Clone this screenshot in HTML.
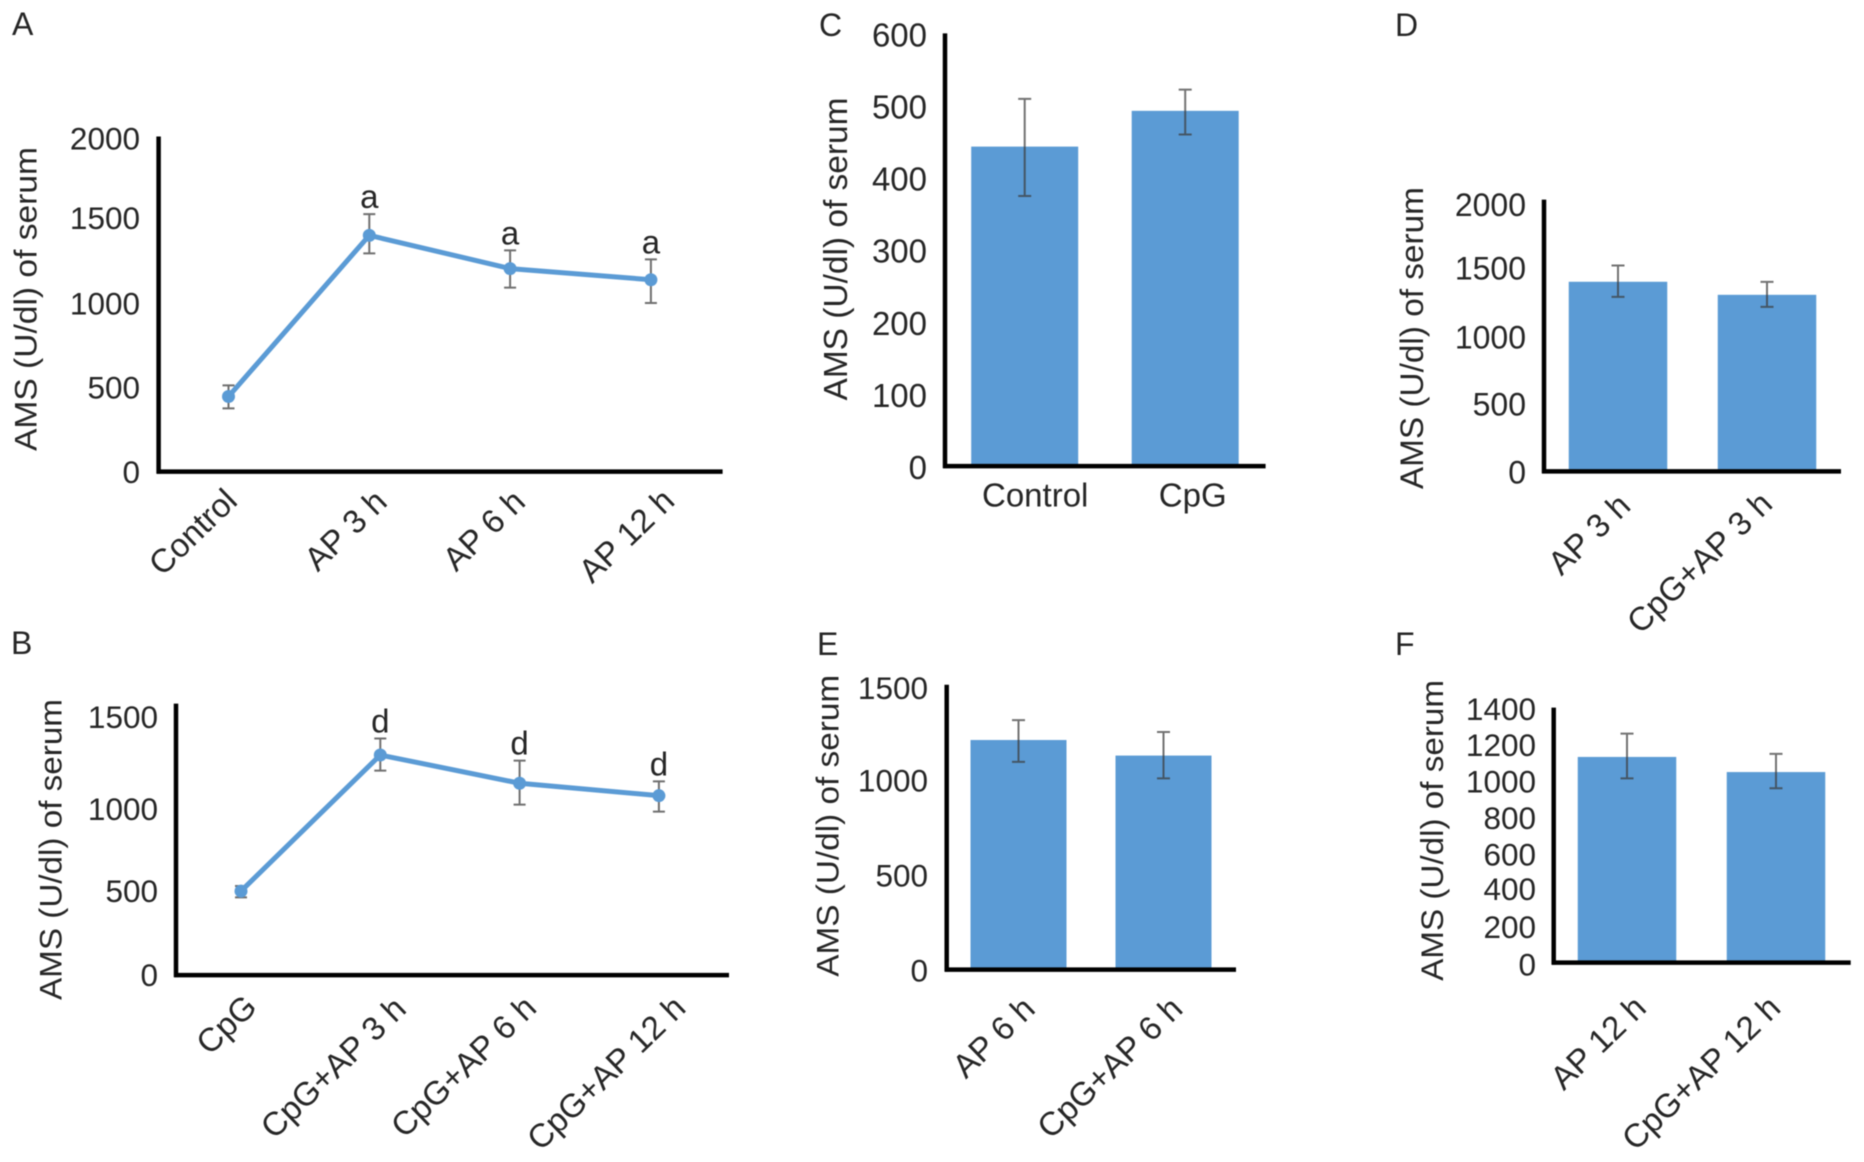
<!DOCTYPE html>
<html lang="en">
<head>
<meta charset="utf-8">
<title>AMS of serum, panels A to F</title>
<style>
  html, body { margin: 0; padding: 0; background: #fff; }
  body { width: 1864px; height: 1162px; overflow: hidden; }
  svg { display: block; filter: blur(0.45px); }
  text { font-family: "Liberation Sans", sans-serif; fill: #262626; }
</style>
</head>
<body>
<svg id="figure" xmlns="http://www.w3.org/2000/svg" width="1864" height="1162" viewBox="0 0 1864 1162"></svg>
<script>
/* ---------- data ---------- */
const panelACategories = ['Control', 'AP 3 h', 'AP 6 h', 'AP 12 h'];
const panelAValues = [445, 1400, 1203, 1137];
const panelAUpper = [511, 1526, 1311, 1258];
const panelALower = [375, 1293, 1090, 999];
const panelAMarks = ['', 'a', 'a', 'a'];
const panelATicks = [0, 500, 1000, 1500, 2000];

const panelBCategories = ['CpG', 'CpG+AP 3 h', 'CpG+AP 6 h', 'CpG+AP 12 h'];
const panelBValues = [500, 1310, 1142, 1068];
const panelBUpper = [530, 1408, 1277, 1153];
const panelBLower = [463, 1217, 1015, 973];
const panelBMarks = ['', 'd', 'd', 'd'];
const panelBTicks = [0, 500, 1000, 1500];

const panelCCategories = ['Control', 'CpG'];
const panelCValues = [443, 492.6];
const panelCUpper = [509.2, 522];
const panelCLower = [374.6, 459.8];
const panelCTicks = [0, 100, 200, 300, 400, 500, 600];

const panelDCategories = ['AP 3 h', 'CpG+AP 3 h'];
const panelDValues = [1395, 1299];
const panelDUpper = [1515, 1394];
const panelDLower = [1284, 1210];
const panelDTicks = [0, 500, 1000, 1500, 2000];

const panelECategories = ['AP 6 h', 'CpG+AP 6 h'];
const panelEValues = [1209, 1127];
const panelEUpper = [1314, 1251];
const panelELower = [1094, 1007];
const panelETicks = [0, 500, 1000, 1500];

const panelFCategories = ['AP 12 h', 'CpG+AP 12 h'];
const panelFValues = [1130, 1047];
const panelFUpper = [1258, 1147];
const panelFLower = [1012, 958];
const panelFTicks = [0, 200, 400, 600, 800, 1000, 1200, 1400];

const yAxisTitle = 'AMS (U/dl) of serum';

/* ---------- layout: pixels per panel, kept apart from the data ---------- */
const layoutA = { id: 'a', letter: 'A', letterX: 12, letterY: 35, axisX: 158.6, axisTop: 136.5, baseY: 471.6, axisEnd: 722.6, unitPx: 0.16875, x0: 228.5, step: 140.8, tickRight: 140, titleX: 36.6, titleMid: 299, titleLen: 304, font: 31.5, xFont: 33.1, labelDx: [10.5, 19.5, 17, 25.5], labelY: [503, 504, 504, 503], tickDy: 11.5, tickNudge: { 2000: 4, 1500: -1 } };
const layoutB = { id: 'b', letter: 'B', letterX: 11, letterY: 654, axisX: 176, axisTop: 703.6, baseY: 975.1, axisEnd: 729, unitPx: 0.168, x0: 241, step: 139.3, tickRight: 158, titleX: 61.5, titleMid: 849.5, titleLen: 301, font: 31.5, xFont: 33.1, labelDx: [17.6, 27.7, 18.6, 28.6], labelY: [1009, 1011, 1010, 1010], tickDy: 11, tickNudge: { 1500: -6, 1000: 2 } };
const layoutC = { id: 'c', letter: 'C', letterX: 819, letterY: 36, axisX: 945, axisTop: 33.4, baseY: 466.1, axisEnd: 1265.6, unitPx: 0.7212, x0: 1024.7, step: 160.5, barW: 107, tickRight: 927, titleX: 847, titleMid: 249, titleLen: 303, font: 33, xFont: 33, labelDx: [10.5, 7.5], labelY: [506.5, 506.5], tickDy: 13, tickNudge: {}, horizontal: true };
const layoutD = { id: 'd', letter: 'D', letterX: 1395, letterY: 36, axisX: 1544, axisTop: 199.6, baseY: 471.35, axisEnd: 1841, unitPx: 0.1359, x0: 1618, step: 149, barW: 98.5, tickRight: 1526, titleX: 1423, titleMid: 338.1, titleLen: 302, font: 32, xFont: 33.1, labelDx: [14.4, 7.2], labelY: [508, 506], tickDy: 12, tickNudge: { 2000: 4.5, 1000: 1 } };
const layoutE = { id: 'e', letter: 'E', letterX: 817, letterY: 655, axisX: 946.7, axisTop: 684.8, baseY: 969.6, axisEnd: 1236, unitPx: 0.1899, x0: 1018.5, step: 145, barW: 96, tickRight: 928, titleX: 838.3, titleMid: 825.8, titleLen: 302, font: 31.5, xFont: 33.1, labelDx: [18.4, 21], labelY: [1011, 1011], tickDy: 12, tickNudge: { 1500: 2 } };
const layoutF = { id: 'f', letter: 'F', letterX: 1395, letterY: 655, axisX: 1553.7, axisTop: 707.6, baseY: 962.6, axisEnd: 1850.7, unitPx: 0.182, x0: 1627, step: 149, barW: 98.5, tickRight: 1536, titleX: 1443, titleMid: 830.4, titleLen: 301, font: 31.5, xFont: 33.1, labelDx: [21, 6.4], labelY: [1010, 1010], tickDy: 12, tickNudge: { 0: 1, 400: -2 } };

const SVG_NS = 'http://www.w3.org/2000/svg';
const figure = document.getElementById('figure');
const BLUE = '#5b9bd5';

function make(tag, attrs, parent) {
  const node = document.createElementNS(SVG_NS, tag);
  for (const key in attrs) node.setAttribute(key, attrs[key]);
  parent.appendChild(node);
  return node;
}
function scaleY(layout, value) { return layout.baseY - value * layout.unitPx; }
function scaleX(layout, index) { return layout.x0 + index * layout.step; }

function drawFrame(layout, categories, ticks) {
  const g = make('g', {}, figure);
  
  

  const letter = make('text', { x: layout.letterX, y: layout.letterY, 'font-size': 32 }, g);
  letter.textContent = layout.letter;
  
  

  const title = make('text', {
    x: 0, y: 0, 'font-size': layout.font, 'text-anchor': 'middle',
    textLength: layout.titleLen, lengthAdjust: 'spacingAndGlyphs',
    transform: 'translate(' + layout.titleX + ' ' + layout.titleMid + ') rotate(-90)'
  }, g);
  title.textContent = yAxisTitle;
  
  

  ticks.forEach(function (tick) {
    const label = make('text', {
      x: layout.tickRight, y: scaleY(layout, tick) + layout.tickDy + (layout.tickNudge[tick] || 0),
      'font-size': layout.font, 'text-anchor': 'end'
    }, g);
    label.textContent = String(tick);
    
    
  });

  categories.forEach(function (category, i) {
    const px = scaleX(layout, i) + layout.labelDx[i];
    const py = layout.labelY[i];
    const attrs = layout.horizontal
      ? { x: px, y: py, 'font-size': layout.xFont, 'text-anchor': 'middle' }
      : { x: 0, y: 0, 'font-size': layout.xFont, 'text-anchor': 'end', transform: 'translate(' + px + ' ' + py + ') rotate(-44)' };
    const label = make('text', attrs, g);
    label.textContent = category;
    
    
  });
  return g;
}

function drawAxes(layout, g) {
  const yAxis = make('line', { x1: layout.axisX, x2: layout.axisX, y1: layout.axisTop, y2: layout.baseY + 2, stroke: '#000', 'stroke-width': 4.5 }, g);
  
  
  const xAxis = make('line', { x1: layout.axisX - 2, x2: layout.axisEnd, y1: layout.baseY, y2: layout.baseY, stroke: '#000', 'stroke-width': 4.5 }, g);
  
  
}

function drawError(layout, g, i, upper, lower, stroke, capHalf) {
  const x = scaleX(layout, i);
  const top = scaleY(layout, upper[i]);
  const bottom = scaleY(layout, lower[i]);
  const eg = make('path', {
    d: 'M' + x + ' ' + top + 'V' + bottom + 'M' + (x - capHalf) + ' ' + top + 'H' + (x + capHalf) + 'M' + (x - capHalf) + ' ' + bottom + 'H' + (x + capHalf),
    fill: 'none', stroke: stroke, 'stroke-width': 2
  }, g);
  
  
}

function drawLinePanel(layout, categories, values, upper, lower, marks, ticks) {
  const g = drawFrame(layout, categories, ticks);
  drawAxes(layout, g);
  values.forEach(function (v, i) { drawError(layout, g, i, upper, lower, '#6f6f6f', 6); });
  const points = values.map(function (v, i) { return scaleX(layout, i) + ',' + scaleY(layout, v); }).join(' ');
  const line = make('polyline', { points: points, fill: 'none', stroke: BLUE, 'stroke-width': 5, 'stroke-linejoin': 'round' }, g);
  
  
  values.forEach(function (v, i) {
    const dot = make('circle', { cx: scaleX(layout, i), cy: scaleY(layout, v), r: 6.5, fill: BLUE }, g);
    
    
    if (marks[i]) {
      const mark = make('text', { x: scaleX(layout, i), y: scaleY(layout, upper[i]) - 6, 'font-size': 33, 'text-anchor': 'middle' }, g);
      mark.textContent = marks[i];
      
      
    }
  });
}

function drawBarPanel(layout, categories, values, upper, lower, ticks) {
  const g = drawFrame(layout, categories, ticks);
  values.forEach(function (v, i) {
    const top = scaleY(layout, v);
    const bar = make('rect', { x: scaleX(layout, i) - layout.barW / 2, y: top, width: layout.barW, height: layout.baseY - top, fill: BLUE }, g);
    
    
  });
  drawAxes(layout, g);
  values.forEach(function (v, i) { drawError(layout, g, i, upper, lower, 'rgba(60,60,60,0.72)', 6.5); });
}

drawLinePanel(layoutA, panelACategories, panelAValues, panelAUpper, panelALower, panelAMarks, panelATicks);
drawLinePanel(layoutB, panelBCategories, panelBValues, panelBUpper, panelBLower, panelBMarks, panelBTicks);
drawBarPanel(layoutC, panelCCategories, panelCValues, panelCUpper, panelCLower, panelCTicks);
drawBarPanel(layoutD, panelDCategories, panelDValues, panelDUpper, panelDLower, panelDTicks);
drawBarPanel(layoutE, panelECategories, panelEValues, panelEUpper, panelELower, panelETicks);
drawBarPanel(layoutF, panelFCategories, panelFValues, panelFUpper, panelFLower, panelFTicks);
</script>
</body>
</html>
